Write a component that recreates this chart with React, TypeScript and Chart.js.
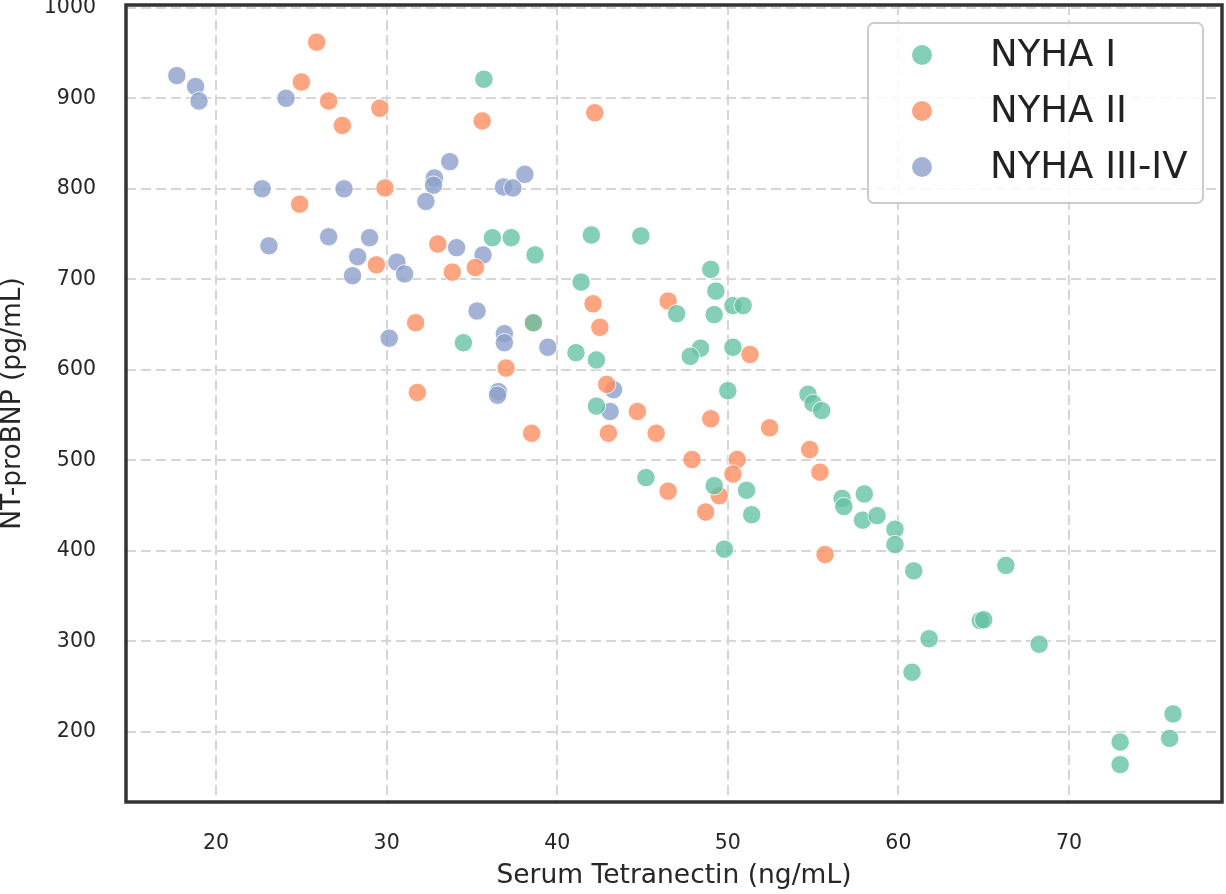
import { useEffect, useRef } from "react";
import { Chart, registerables } from "chart.js";

Chart.register(...registerables);

const SERIES_LABELS = ["NYHA I", "NYHA II", "NYHA III-IV"];
const SERIES_COLORS = ["102, 194, 165", "252, 141, 98", "141, 160, 203"];

// NYHA I
const nyha1X = [
    35.7, 36.2, 37.3, 38.7, 38.6, 34.5, 42.0, 44.9, 41.4, 49.0, 49.3, 49.2,
    50.3, 50.9, 47.0, 41.1, 42.3, 48.4, 47.8, 50.3, 50.0, 54.7, 55.0, 55.5,
    42.3, 45.2, 49.2, 51.1, 51.4, 49.8, 56.7, 56.8, 58.0, 57.9, 58.75, 59.8,
    59.8, 60.9, 66.3, 64.8, 65.0, 61.8, 68.25, 60.8, 76.1, 75.9, 73.0, 73.0,
];
const nyha1Y = [
    921, 746, 746, 727, 652, 630, 749, 748, 697, 711, 687, 661,
    671, 671, 662, 619, 611, 624, 615, 625, 577, 573, 563, 555,
    560, 481, 472, 467, 440, 402, 458, 449, 463, 434, 439, 424,
    407, 378, 384, 323, 324, 303, 297, 266, 220, 193, 189, 164,
];

// NYHA II
const nyha2X = [
    25.9, 25.0, 26.6, 27.4, 29.6, 35.6, 42.2, 29.9, 24.9, 29.4, 33.0, 33.85,
    35.2, 31.7, 38.6, 37.0, 31.8, 42.1, 42.5, 46.5, 51.3, 42.9, 44.7, 38.5,
    43.0, 45.8, 49.0, 52.45, 47.9, 50.55, 50.3, 54.8, 55.4, 46.5, 49.5, 48.7,
    55.7,
];
const nyha2Y = [
    962, 918, 897, 870, 889, 875, 884, 801, 783, 716, 739, 708,
    713, 652, 652, 602, 575, 673, 647, 676, 617, 584, 554, 530,
    530, 530, 546, 536, 501, 501, 485, 512, 487, 466, 461, 443,
    396,
];

// NYHA III-IV
const nyha3X = [
    17.7, 18.8, 19.0, 24.1, 33.7, 32.8, 32.75, 32.3, 38.1, 36.85, 37.4, 22.7,
    27.5, 23.1, 26.6, 29.0, 28.3, 28.0, 30.6, 31.05, 34.1, 35.65, 35.3, 30.15,
    36.9, 36.9, 39.45, 36.55, 36.5, 43.3, 43.1,
];
const nyha3Y = [
    925, 913, 897, 900, 830, 812, 804, 786, 816, 802, 801, 800,
    800, 737, 747, 746, 725, 704, 719, 706, 735, 727, 665, 635,
    640, 630, 625, 576, 572, 578, 554,
];

const X_TICKS = [20, 30, 40, 50, 60, 70];
const Y_TICKS = [200, 300, 400, 500, 600, 700, 800, 900, 1000];

const FONT = "'DejaVu Sans', sans-serif";
const TEXT_COLOR = "#262626";

const framePlugin = {
    id: "frame",
    afterDatasetsDraw(chart: Chart) {
        const { ctx, chartArea } = chart;
        ctx.save();
        ctx.strokeStyle = "#333333";
        ctx.lineWidth = 3.5;
        ctx.strokeRect(
            chartArea.left,
            chartArea.top,
            chartArea.right - chartArea.left,
            chartArea.bottom - chartArea.top
        );
        ctx.restore();
    },
};

const legendBoxPlugin = {
    id: "legendBox",
    afterDraw(chart: Chart) {
        const { ctx, chartArea } = chart;
        const w = 335;
        const h = 180;
        const x = chartArea.right - 19 - w;
        const y = chartArea.top + 18;
        ctx.save();
        ctx.beginPath();
        ctx.roundRect(x, y, w, h, 6);
        ctx.fillStyle = "rgba(255,255,255,0.85)";
        ctx.fill();
        ctx.strokeStyle = "#cccccc";
        ctx.lineWidth = 2;
        ctx.stroke();
        ctx.font = `37px ${FONT}`;
        ctx.textBaseline = "middle";
        chart.data.datasets.forEach((ds: any, i: number) => {
            const cy = y + 32 + i * 56;
            ctx.beginPath();
            ctx.arc(x + 54, cy, 10, 0, Math.PI * 2);
            ctx.fillStyle = ds.backgroundColor;
            ctx.fill();
            ctx.fillStyle = "#222222";
            ctx.fillText(ds.label, x + 122, cy + 1);
        });
        ctx.restore();
    },
};

function toPoints(xs: number[], ys: number[]) {
    return xs.map((x, i) => ({ x, y: ys[i] }));
}

export default function App() {
    const canvasRef = useRef<HTMLCanvasElement>(null);

    useEffect(() => {
        if (!canvasRef.current) return;
        const groups = [
            toPoints(nyha1X, nyha1Y),
            toPoints(nyha2X, nyha2Y),
            toPoints(nyha3X, nyha3Y),
        ];
        const chart = new Chart(canvasRef.current, {
            type: "scatter",
            data: {
                datasets: groups.map((data, i) => ({
                    label: SERIES_LABELS[i],
                    data,
                    backgroundColor: `rgba(${SERIES_COLORS[i]}, 0.8)`,
                    borderColor: "rgba(255,255,255,0.8)",
                    borderWidth: 1,
                    pointRadius: 9.2,
                    pointHoverRadius: 9.2,
                })),
            },
            options: {
                animation: false,
                responsive: true,
                maintainAspectRatio: false,
                layout: { autoPadding: false, padding: { top: 5, right: 4, left: 0, bottom: 0 } },
                plugins: {
                    legend: { display: false },
                    tooltip: { enabled: false },
                },
                scales: {
                    x: {
                        type: "linear",
                        min: 14.72,
                        max: 78.97,
                        afterBuildTicks: (scale: any) => {
                            scale.ticks = X_TICKS.map((value) => ({ value }));
                        },
                        afterFit: (scale: any) => {
                            scale.height = 92;
                            scale.paddingLeft = 0;
                            scale.paddingRight = 0;
                        },
                        grid: { color: "#d6d6d6", lineWidth: 2, drawTicks: false },
                        border: { display: false, dash: [10, 5] },
                        ticks: {
                            padding: 29,
                            color: TEXT_COLOR,
                            font: { family: FONT, size: 20.5 },
                            callback: (v: any) => String(v),
                        },
                        title: {
                            display: true,
                            text: "Serum Tetranectin (ng/mL)",
                            color: TEXT_COLOR,
                            font: { family: FONT, size: 26.5, lineHeight: 1 },
                            padding: { top: 0, bottom: 5 },
                        },
                    },
                    y: {
                        type: "linear",
                        min: 122.7,
                        max: 1003,
                        afterBuildTicks: (scale: any) => {
                            scale.ticks = Y_TICKS.map((value) => ({ value }));
                        },
                        afterFit: (scale: any) => {
                            scale.width = 126;
                            scale.paddingTop = 0;
                            scale.paddingBottom = 0;
                        },
                        grid: { color: "#d6d6d6", lineWidth: 2, drawTicks: false },
                        border: { display: false, dash: [10, 5] },
                        ticks: {
                            padding: 30,
                            color: TEXT_COLOR,
                            font: { family: FONT, size: 20.5 },
                            callback: (v: any) => String(v),
                        },
                        title: {
                            display: true,
                            text: "NT-proBNP (pg/mL)",
                            color: TEXT_COLOR,
                            font: { family: FONT, size: 26.5, lineHeight: 1 },
                            padding: { top: 0, bottom: 0 },
                        },
                    },
                },
            },
            plugins: [framePlugin, legendBoxPlugin],
        });
        return () => {
            chart.destroy();
        };
    }, []);

    return (
        <div style={{ position: "fixed", left: 0, top: 0, width: "1226px", height: "894px", background: "#ffffff" }}>
            <canvas ref={canvasRef} role="img" aria-label="Scatter plot of NT-proBNP against serum tetranectin by NYHA class" />
        </div>
    );
}
